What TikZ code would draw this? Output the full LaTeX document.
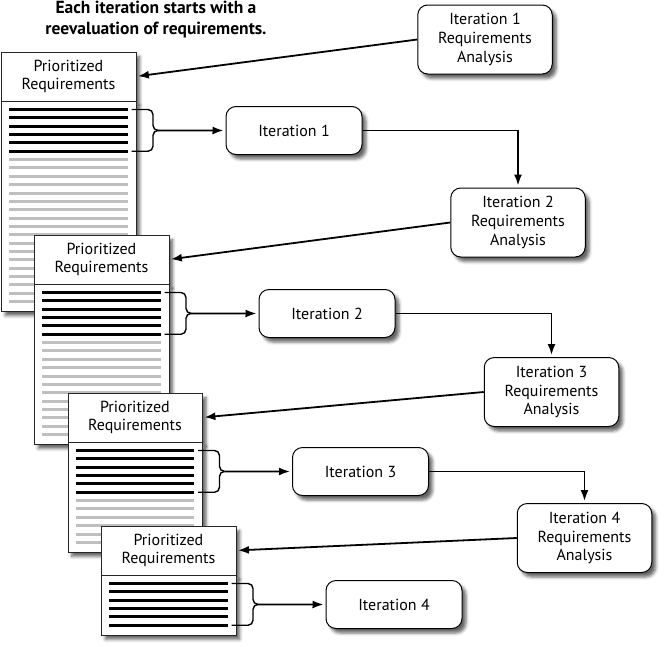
\documentclass[tikz,border=0pt]{standalone}
\usepackage{fontspec}
\setmainfont{PT Sans}
\usepackage{tikz}
\usetikzlibrary{arrows.meta,shadows.blur,calc}

\tikzset{
	castshadow/.style={blur shadow={shadow xshift=4pt,shadow yshift=-4.5pt,shadow blur radius=3pt,shadow opacity=60}},
	dochead/.style={draw=black!85,fill=white,minimum width=134.5pt,minimum height=48.5pt,inner sep=0pt,
		align=center,anchor=north west,font=\fontsize{16}{18.3}\selectfont,castshadow},
	docbody/.style={draw=black!85,fill=white,minimum width=134.5pt,inner sep=0pt,anchor=north west,castshadow},
	itbox/.style={draw,line width=1pt,fill=white,rounded corners=10pt,minimum width=136pt,minimum height=48pt,inner sep=0pt,
		font=\fontsize{16}{18.8}\selectfont,castshadow},
	rabox/.style={itbox,minimum width=134.5pt,minimum height=69pt,align=center},
	flow/.style={line width=1.8pt,-{Latex[length=11pt,width=8pt]},shorten >=2pt},
	reqdone/.style={line width=3pt},
	reqopen/.style={line width=3pt,black!25},
	bracket/.style={line width=1.4pt,rounded corners=5pt},
}

\begin{document}
\begin{tikzpicture}[x=1pt,y=-1pt]
	\useasboundingbox (0,0) rectangle (664,646);

	\node[font=\bfseries\fontsize{17.5}{21}\selectfont,align=center] (title) at (156,20)
		{Each iteration starts with a\\reevaluation of requirements.};

	% the four requirement lists, each one shorter than the last
	\foreach \k/\lx/\ty/\n in {1/1/52/24, 2/34/235/18, 3/67.5/393/12, 4/101/526/6} {
		\node[dochead] (head\k) at (\lx,\ty) {Prioritized\\Requirements};
		\node[docbody,minimum height={18+(\n-1)*8.35}] (body\k) at (head\k.south west) {};
		\foreach \j in {1,...,\n} {
			\pgfmathsetmacro{\ly}{\ty+48.5+9+(\j-1)*8.35}
			\ifnum\j<7
				\draw[reqdone] (\lx+8,\ly) -- (\lx+126.5,\ly);
			\else
				\draw[reqopen] (\lx+8,\ly) -- (\lx+126.5,\ly);
			\fi
		}
		\coordinate (btop\k) at (\lx+130.5,\ty+57.5);
		\coordinate (bbot\k) at (\lx+130.5,\ty+57.5+41.75);
		\coordinate (tip\k) at (\lx+157,\ty+57.5+20.9);
		\draw[bracket] (btop\k) -| ($(tip\k)+(-5,0)$) -- (tip\k);
		\draw[bracket] (bbot\k) -| ($(tip\k)+(-5,0)$) -- (tip\k);
	}

	\node[itbox] (it1) at (294,130.5) {Iteration 1};
	\node[itbox] (it2) at (327,313.5) {Iteration 2};
	\node[itbox] (it3) at (360.5,471.5) {Iteration 3};
	\node[itbox] (it4) at (394,604.5) {Iteration 4};

	\node[rabox] (ra1) at (485,39.5) {Iteration 1\\Requirements\\Analysis};
	\node[rabox] (ra2) at (518,222.5) {Iteration 2\\Requirements\\Analysis};
	\node[rabox] (ra3) at (551.5,392) {Iteration 3\\Requirements\\Analysis};
	\node[rabox] (ra4) at (584.5,538) {Iteration 4\\Requirements\\Analysis};

	\foreach \k in {1,...,4} {
		\draw[flow] (tip\k) -- (it\k.west);
		\draw[flow] (ra\k.west) -- (head\k.east);
	}
	\draw[flow] (it1.east) -| (ra2.north);
	\draw[flow] (it2.east) -| (ra3.north);
	\draw[flow] (it3.east) -| (ra4.north);
\end{tikzpicture}
\end{document}
